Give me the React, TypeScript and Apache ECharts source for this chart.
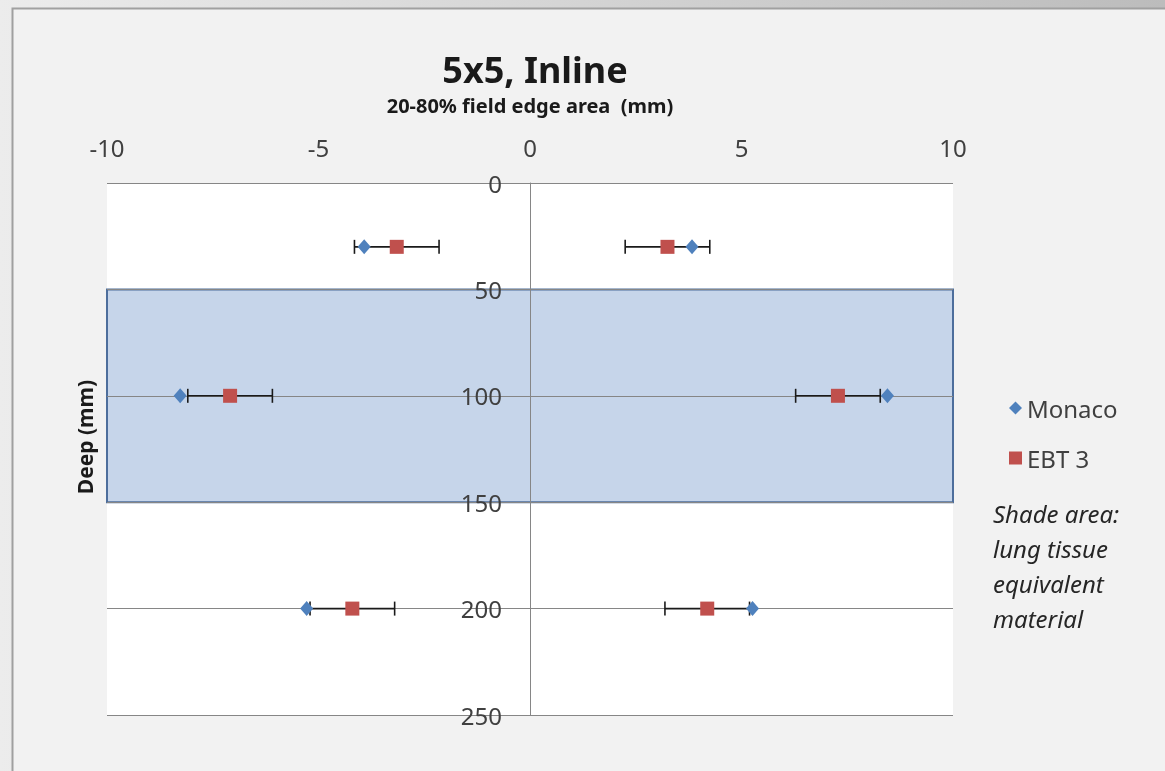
import React, { useEffect, useRef } from "react";
import * as echarts from "echarts";

// Data
const monacoX = [-3.92, 3.83, -8.27, 8.45, -5.28, 5.26];
const monacoDepth = [30, 30, 100, 100, 200, 200];
const ebtX = [-3.15, 3.25, -7.09, 7.28, -4.2, 4.19];
const ebtDepth = [30, 30, 100, 100, 200, 200];
const ebtErr = [1.0, 1.0, 1.0, 1.0, 1.0, 1.0];
const shadeFrom = 50;
const shadeTo = 150;
const seriesNames = ["Monaco", "EBT 3"];
const noteLines = ["Shade area:", "lung tissue", "equivalent", "material"];

const FONT = "Noto Sans";

export default function App() {
  const ref = useRef<HTMLDivElement>(null);
  useEffect(() => {
    document.body.style.margin = "0";
    if (!ref.current) return;
    const chart = echarts.init(ref.current, null, { renderer: "svg" });
    const monacoData = monacoX.map((x, i) => [x, monacoDepth[i]]);
    const ebtData = ebtX.map((x, i) => [x, ebtDepth[i]]);
    const errData = ebtX.map((x, i) => [x, ebtDepth[i], ebtErr[i]]);

    chart.setOption({
      animation: false,
      textStyle: { fontFamily: FONT },
      title: {
        text: "5x5, Inline",
        left: 530,
        textAlign: "center",
        top: 46,
        textStyle: { fontFamily: FONT, fontSize: 36, fontWeight: "bold", color: "#1a1a1a" },
      },
      graphic: [
        {
          type: "rect",
          silent: true,
          z: -10,
          shape: { x: 0, y: 0, width: 1165, height: 771 },
          style: {
            fill: new echarts.graphic.LinearGradient(0, 0, 1, 0, [
              { offset: 0, color: "#ececec" },
              { offset: 1, color: "#bcbcbc" },
            ]),
          },
        },
        {
          type: "rect",
          silent: true,
          z: -9,
          shape: { x: 12.5, y: 8.5, width: 1170, height: 780 },
          style: { fill: "#f2f2f2", stroke: "#a0a0a0", lineWidth: 2 },
        },
        {
          type: "text",
          x: 85,
          y: 437,
          rotation: Math.PI / 2,
          style: {
            text: "Deep (mm)",
            font: `bold 21px "${FONT}"`,
            fill: "#1a1a1a",
            textAlign: "center",
            textVerticalAlign: "middle",
          },
        },
        ...noteLines.map((t, i) => ({
          type: "text",
          x: 993,
          y: 513 + i * 35,
          style: {
            text: t,
            font: `italic 24px "${FONT}"`,
            fill: "#262626",
            textAlign: "left",
            textVerticalAlign: "middle",
          },
        })),
      ],
      legend: {
        orient: "vertical",
        left: 1004,
        top: 388,
        itemWidth: 13,
        itemHeight: 13,
        itemGap: 20,
        textStyle: { fontFamily: FONT, fontSize: 24, color: "#404040", lineHeight: 30 },
        data: [
          { name: seriesNames[0], icon: "diamond" },
          { name: seriesNames[1], icon: "rect" },
        ],
      },
      grid: {
        left: 107,
        right: 212,
        top: 183,
        bottom: 56,
        show: true,
        backgroundColor: "#ffffff",
        borderWidth: 0,
      },
      xAxis: {
        type: "value",
        position: "top",
        min: -10,
        max: 10,
        interval: 5,
        name: "20-80% field edge area  (mm)",
        nameLocation: "middle",
        nameGap: 68,
        nameTextStyle: { fontFamily: FONT, fontSize: 20, fontWeight: "bold", color: "#1a1a1a" },
        axisLine: { show: false },
        axisTick: { show: false },
        splitLine: { show: false },
        axisLabel: { fontFamily: FONT, fontSize: 24, color: "#404040", margin: 24 },
      },
      yAxis: {
        type: "value",
        inverse: true,
        min: 0,
        max: 250,
        interval: 50,
        z: 3,
        offset: -423,
        axisLine: { show: true, onZero: false, lineStyle: { color: "#868686", width: 1 } },
        axisTick: { show: false },
        splitLine: { show: true, lineStyle: { color: "#868686", width: 1 } },
        axisLabel: { fontFamily: FONT, fontSize: 24, color: "#404040", margin: 28 },
      },
      series: [
        {
          name: "shade",
          type: "scatter",
          data: [],
          z: 1,
          silent: true,
          markArea: {
            silent: true,
            itemStyle: { color: "#c6d5ea", borderColor: "#4d6e9c", borderWidth: 2, opacity: 1 },
            data: [[{ coord: [-10, shadeFrom] }, { coord: [10, shadeTo] }]],
          },
        },
        {
          name: "err",
          type: "custom",
          z: 4,
          data: errData,
          encode: { x: 0, y: 1 },
          renderItem: (params: any, api: any) => {
            const x = api.value(0);
            const y = api.value(1);
            const e = api.value(2);
            const a = api.coord([x - e, y]);
            const b = api.coord([x + e, y]);
            const h = 7;
            const st = { stroke: "#1a1a1a", lineWidth: 1.6 };
            return {
              type: "group",
              children: [
                { type: "line", shape: { x1: a[0], y1: a[1], x2: b[0], y2: b[1] }, style: st },
                { type: "line", shape: { x1: a[0], y1: a[1] - h, x2: a[0], y2: a[1] + h }, style: st },
                { type: "line", shape: { x1: b[0], y1: b[1] - h, x2: b[0], y2: b[1] + h }, style: st },
              ],
            };
          },
        },
        {
          name: seriesNames[0],
          type: "scatter",
          z: 5,
          symbol: "diamond",
          symbolSize: [13, 15],
          itemStyle: { color: "#4f81bd", opacity: 1 },
          data: monacoData,
        },
        {
          name: seriesNames[1],
          type: "scatter",
          z: 6,
          symbol: "rect",
          symbolSize: 14,
          itemStyle: { color: "#c0504d", opacity: 1 },
          data: ebtData,
        },
      ],
    });
    return () => chart.dispose();
  }, []);
  return (
    <div
      ref={ref}
      style={{ position: "fixed", left: 0, top: 0, width: 1165, height: 771 }}
    />
  );
}
